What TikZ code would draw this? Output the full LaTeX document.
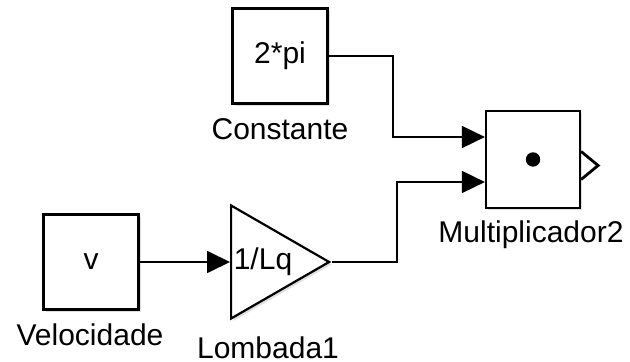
\documentclass[tikz,border=0pt]{standalone}
\usepackage{fontspec}
\setmainfont{Liberation Sans}
\usetikzlibrary{arrows.meta,shapes.geometric,shadows,calc}

\tikzset{
  blk/.style={draw, line width=1.1pt, fill=white, inner sep=0pt,
    minimum width=47.5pt, minimum height=47.5pt,
    drop shadow={shadow xshift=1.2pt, shadow yshift=-1.2pt, opacity=0.25}},
  gainblk/.style={draw, line width=1.1pt, fill=white, isosceles triangle,
    isosceles triangle stretches, shape border rotate=0, inner sep=0pt,
    minimum width=56.5pt, minimum height=49pt,
    drop shadow={shadow xshift=1.2pt, shadow yshift=-1.2pt, opacity=0.25}},
  txt/.style={font=\fontsize{15}{18}\selectfont, inner sep=0pt},
  sig/.style={line width=0.9pt, -{Triangle[length=11.5pt,width=11pt]}},
}

\begin{document}
\begin{tikzpicture}[x=0.5pt,y=-0.5pt]
    \useasboundingbox (0,0) rectangle (630,362);
    % blocks
    \node[blk, txt] (const) at (280,56) {2*pi};
    \node[blk, txt] (vel) at (91,262) {v};
    \node[blk, minimum width=47pt, minimum height=48.5pt] (mult) at (533,159.5) {};
    \node[gainblk, anchor=lower side] (gain) at (230,262) {};
    \node[txt] (gaintxt) at (263,262) {1/Lq};
    \fill (mult.center) circle (3.6pt);
    % output port of the product
    \coordinate (out) at ($(mult.east)+(0,6)$);
    \draw[line width=1.4pt] ($(out)+(0,-14)$) -- ($(out)+(17,0)$) -- ($(out)+(0,14)$);
    % block names
    \node[txt, anchor=base] (constlbl) at (280,140) {Constante};
    \node[txt, anchor=base] (vellbl) at (90,345) {Velocidade};
    \node[txt, anchor=base] (gainlbl) at (268,358) {Lombada1};
    \node[txt, anchor=base] (multlbl) at (531,243) {Multiplicador2};
    % signals
    \coordinate (in1) at ($(mult.west)+(0,-22.5)$);
    \coordinate (in2) at ($(mult.west)+(0,22.5)$);
    \draw[sig] (const.east) -| (393,137) -- (in1);
    \draw[sig] (vel.east) -- (gain.lower side);
    \draw[sig] (gain.apex) -| (397,182) -- (in2);
\end{tikzpicture}
\end{document}
